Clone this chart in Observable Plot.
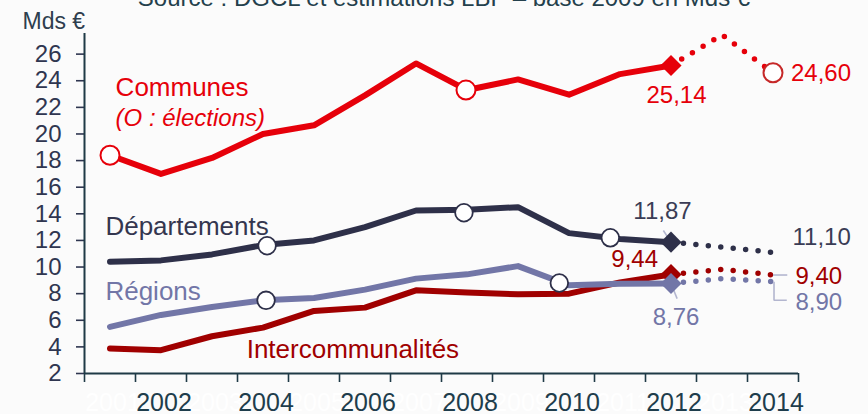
<!DOCTYPE html>
<html lang="fr">
<head>
<meta charset="utf-8">
<title>Dépenses d'investissement des collectivités locales</title>
<script src="https://cdn.jsdelivr.net/npm/d3@7"></script>
<script src="https://cdn.jsdelivr.net/npm/@observablehq/plot@0.6"></script>
<style>
  html, body { margin: 0; padding: 0; background: #fbfbfb; }
  #chart { width: 868px; height: 414px; overflow: hidden; }
</style>
</head>
<body>
<div id="chart"></div>
<script>
// Années et montants (Mds €) ; 2013-2014 = estimations
const years = [2001, 2002, 2003, 2004, 2005, 2006, 2007, 2008, 2009, 2010, 2011, 2012, 2013, 2014];
const lastActualYear = 2012;
const communes          = [18.4, 17.0, 18.2, 20.0, 20.65, 22.9, 25.3, 23.3, 24.1, 22.95, 24.5, 25.14, 27.45, 24.60];
const departements      = [10.4, 10.5, 10.95, 11.65, 12.0, 13.0, 14.25, 14.3, 14.5, 12.55, 12.1, 11.87, 11.5, 11.10];
const regions           = [5.5, 6.4, 7.0, 7.5, 7.67, 8.3, 9.13, 9.45, 10.07, 8.63, 8.75, 8.76, 9.13, 8.90];
const intercommunalites = [3.88, 3.75, 4.8, 5.45, 6.7, 6.95, 8.25, 8.08, 7.95, 8.0, 8.85, 9.44, 9.83, 9.40];

const yTicks = [2, 4, 6, 8, 10, 12, 14, 16, 18, 20, 22, 24, 26];
const yearBounds = [2000.5, 2001.5, 2002.5, 2003.5, 2004.5, 2005.5, 2006.5, 2007.5,
                    2008.5, 2009.5, 2010.5, 2011.5, 2012.5, 2013.5, 2014.5];

const titleText = "Source : DGCL et estimations LBP – base 2009 en Mds €";
const unitText = "Mds €";

const RED = "#e6000a", DARKRED = "#a00000", NAVY = "#2e3049", SLATE = "#7276a7";

const series = [
  {name: "Intercommunalités", values: intercommunalites, color: DARKRED},
  {name: "Régions", values: regions, color: SLATE},
  {name: "Départements", values: departements, color: NAVY},
  {name: "Communes", values: communes, color: RED}
];
const valuesOf = Object.fromEntries(series.map(s => [s.name, s.values]));
const valueAt = (name, year) => valuesOf[name][years.indexOf(year)];

// Années d'élections (cercles)
const elections = [
  {name: "Communes", year: 2001, value: 18.4, stroke: RED},
  {name: "Communes", year: 2007.98, value: 23.3, stroke: RED},
  {name: "Communes", year: 2014, value: 24.60, stroke: "#c62828"},
  {name: "Départements", year: 2004.08, value: 11.6, stroke: NAVY},
  {name: "Départements", year: 2007.94, value: 14.08, stroke: NAVY},
  {name: "Départements", year: 2010.81, value: 12.2, stroke: NAVY},
  {name: "Régions", year: 2004.06, value: 7.5, stroke: NAVY},
  {name: "Régions", year: 2009.81, value: 8.8, stroke: NAVY}
];

// Noms des séries
const seriesLabels = [
  {text: "Communes", x: 2001.11, y: 22.89, color: RED, italic: false, size: 26},
  {text: "(O : élections)", x: 2001.11, y: 20.63, color: RED, italic: true, size: 24},
  {text: "Départements", x: 2000.91, y: 12.43, color: "#34364f", italic: false, size: 26},
  {text: "Régions", x: 2000.91, y: 7.51, color: SLATE, italic: false, size: 26},
  {text: "Intercommunalités", x: 2003.68, y: 3.2, color: DARKRED, italic: false, size: 26}
];

// Valeurs affichées en 2012 et 2014
const callouts = [
  {name: "Communes", year: 2012, dx: 5.5, dy: 37.7, anchor: "middle", color: RED},
  {name: "Communes", year: 2014, dx: 18, dy: 8.5, anchor: "start", color: RED},
  {name: "Départements", year: 2012, dx: -8.5, dy: -22.8, anchor: "middle", color: "#3a3c55"},
  {name: "Départements", year: 2014, dx: 19.5, dy: -7, anchor: "start", color: "#3a3c55"},
  {name: "Intercommunalités", year: 2012, dx: -13, dy: -7.5, anchor: "end", color: DARKRED},
  {name: "Intercommunalités", year: 2014, dx: 22.5, dy: 8.6, anchor: "start", color: DARKRED},
  {name: "Régions", year: 2014, dx: 22.5, dy: 27.9, anchor: "start", color: SLATE},
  {name: "Régions", year: 2012, dx: 5, dy: 41.8, anchor: "middle", color: SLATE}
];

// Traits de rappel vers les étiquettes
const leaders = [
  [{x: 2011.85, y: 12.75}, {x: 2012, y: 11.87}],
  [{x: 2012, y: 8.76}, {x: 2012.12, y: 7.63}],
  [{x: 2014, y: 9.40}, {x: 2014.28, y: 9.40}],
  [{x: 2014.02, y: 8.90}, {x: 2014.02, y: 7.5}, {x: 2014.27, y: 7.5}]
];

const fmt = v => v.toFixed(2).replace(".", ",");
const FONT = "'Liberation Sans', Arial, Helvetica, sans-serif";
const AXIS = "#1f3a46";

const chart = Plot.plot({
  width: 868,
  height: 414,
  marginLeft: 84,
  marginRight: 70,
  marginTop: 33,
  marginBottom: 41,
  style: {background: "#fbfbfb", fontFamily: FONT, overflow: "visible"},
  x: {domain: [2000.5, 2014.5], axis: null},
  y: {domain: [2, 27.55], axis: null},
  marks: [
    // titre et unité
    Plot.text([titleText], {frameAnchor: "top", text: d => d, dx: 2.5, dy: -28, lineAnchor: "bottom",
      fontSize: 24, fill: "#24404c"}),
    Plot.text([unitText], {frameAnchor: "top-left", text: d => d, dx: -62, dy: -5, lineAnchor: "bottom",
      textAnchor: "start", fontSize: 23, fill: "#2e3e4e"}),

    // axes
    Plot.axisY({ticks: yTicks, tickSize: 8, tickPadding: 15, fontSize: 24, color: "#2f3650",
      strokeWidth: 1.6, label: null}),
    Plot.axisX({ticks: yearBounds, tickSize: 9, tickFormat: () => "", color: AXIS, strokeWidth: 1.6, label: null}),
    Plot.ruleX([2000.5], {y1: 2, y2: 27.55, stroke: AXIS, strokeWidth: 2}),
    Plot.ruleY([2], {x1: 2000.5, x2: 2014.5, stroke: AXIS, strokeWidth: 2}),
    Plot.text(years.filter(y => y % 2 === 1), {x: d => d, y: 2, text: d => String(d), dx: 3, dy: 37.4,
      lineAnchor: "bottom", fontSize: 25, fill: "#ffffff"}),
    Plot.text(years.filter(y => y % 2 === 0), {x: d => d, y: 2, text: d => String(d), dx: 3, dy: 37.4,
      lineAnchor: "bottom", fontSize: 25, fill: "#1e3d4c"}),

    // séries : réalisé (trait plein) puis estimation (pointillés)
    ...series.flatMap(s => {
      const pts = years.map((year, i) => ({year, value: s.values[i]}));
      return [
        Plot.line(pts.filter(d => d.year <= lastActualYear), {x: "year", y: "value", stroke: s.color,
          strokeWidth: 6, strokeLinejoin: "round", strokeLinecap: "round"}),
        Plot.line(pts.filter(d => d.year >= lastActualYear), {x: "year", y: "value", stroke: s.color,
          strokeWidth: 5.5, strokeDasharray: "0 12.5", strokeLinecap: "round"})
      ];
    }),

    // traits de rappel
    ...leaders.map(pts => Plot.line(pts, {x: "x", y: "y", stroke: "#b3b6cf", strokeWidth: 1.6,
      strokeLinejoin: "miter", strokeLinecap: "butt"})),

    // losanges : dernière année réalisée
    ...series.map(s => Plot.dot([{year: lastActualYear, value: valueAt(s.name, lastActualYear)}],
      {x: "year", y: "value", symbol: "diamond2", r: 9.5, fill: s.color, stroke: "none"})),

    // cercles : élections
    ...elections.map(e => Plot.dot([e], {x: "year", y: "value", r: e.name === "Communes" ? 9.5 : 8.8,
      fill: "white", stroke: e.stroke, strokeWidth: e.name === "Communes" ? 2 : 1.8})),

    // noms des séries
    ...seriesLabels.map(l => Plot.text([l], {x: "x", y: "y", text: "text", textAnchor: "start",
      lineAnchor: "bottom", fontSize: l.size, fill: l.color, fontStyle: l.italic ? "italic" : "normal"})),

    // valeurs
    ...callouts.map(c => Plot.text([c], {x: "year", y: d => valueAt(d.name, d.year),
      text: d => fmt(valueAt(d.name, d.year)), dx: c.dx, dy: c.dy, textAnchor: c.anchor,
      lineAnchor: "bottom", fontSize: 24, fill: c.color}))
  ]
});

document.getElementById("chart").append(chart);
</script>
</body>
</html>
